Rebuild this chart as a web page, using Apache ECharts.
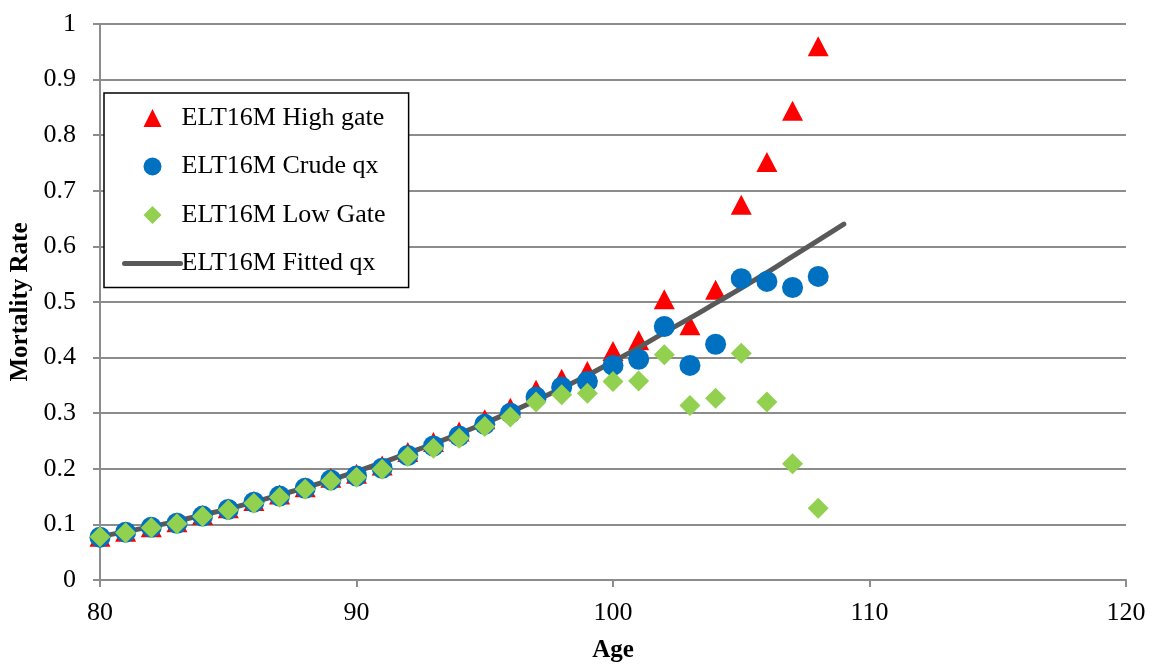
<!DOCTYPE html>
<html><head><meta charset="utf-8">
<script src="https://cdn.jsdelivr.net/npm/echarts@6/dist/echarts.min.js"></script>
<style>html,body{margin:0;padding:0;background:#fff}#c{width:1152px;height:664px}</style>
</head><body><div id="c"></div>
<script>
const ages = [80,81,82,83,84,85,86,87,88,89,90,91,92,93,94,95,96,97,98,99,100,101,102,103,104,105,106,107,108];
const highGate = [0.078,0.087,0.095,0.104,0.117,0.129,0.142,0.154,0.167,0.184,0.191,0.206,0.230,0.248,0.267,0.289,0.310,0.342,0.362,0.376,0.412,0.431,0.505,0.458,0.522,0.675,0.752,0.844,0.960];
const crudeQx = [0.077,0.086,0.095,0.102,0.115,0.127,0.140,0.151,0.165,0.180,0.187,0.201,0.224,0.241,0.259,0.280,0.300,0.329,0.347,0.357,0.386,0.397,0.456,0.386,0.424,0.542,0.537,0.526,0.546];
const lowGate = [0.078,0.085,0.094,0.101,0.114,0.126,0.138,0.149,0.163,0.178,0.185,0.199,0.222,0.237,0.255,0.276,0.293,0.320,0.333,0.336,0.357,0.358,0.405,0.314,0.327,0.408,0.320,0.209,0.129];
const fitAges = [80,81,82,83,84,85,86,87,88,89,90,91,92,93,94,95,96,97,98,99,100,101,102,103,104,105,106,107,108,109];
const fittedQx = [0.078,0.087,0.096,0.106,0.117,0.128,0.140,0.153,0.166,0.180,0.195,0.211,0.228,0.245,0.263,0.282,0.302,0.323,0.345,0.368,0.393,0.418,0.445,0.471,0.498,0.525,0.553,0.582,0.611,0.640];
const seriesNames = ['ELT16M High gate','ELT16M Crude qx','ELT16M Low Gate','ELT16M Fitted qx'];

const pair = (xs, ys) => xs.map((x,i)=>[x, ys[i]]);
const font = '"Liberation Serif", "Times New Roman", serif';
const axisGray = '#8c8c8c';
const triPath = 'path://M0,-1L1,1L-1,1Z';
const diaPath = 'path://M0,-1L1,0L0,1L-1,0Z';

const chart = echarts.init(document.getElementById('c'), null, {renderer:'canvas'});
chart.setOption({
  animation:false,
  backgroundColor:'#fff',
  textStyle:{fontFamily:font},
  grid:{left:100, right:26, top:24, bottom:84, containLabel:false, outerBoundsMode:'none'},
  xAxis:{
    type:'value', min:80, max:120, interval:10,
    name:'Age', nameLocation:'middle', nameGap:58,
    nameTextStyle:{fontFamily:font, fontSize:25, fontWeight:'bold', color:'#000'},
    axisLine:{show:true, lineStyle:{color:axisGray, width:2}},
    axisTick:{show:true, length:7, inside:false, lineStyle:{color:axisGray, width:2}},
    axisLabel:{fontFamily:font, fontSize:26, color:'#000', margin:20},
    splitLine:{show:false}
  },
  yAxis:{
    type:'value', min:0, max:1, interval:0.1,
    name:'Mortality Rate', nameLocation:'middle', nameGap:63, nameRotate:90,
    nameTextStyle:{fontFamily:font, fontSize:25, fontWeight:'bold', color:'#000'},
    axisLine:{show:true, lineStyle:{color:axisGray, width:2}},
    axisTick:{show:true, length:7, inside:false, lineStyle:{color:axisGray, width:2}},
    axisLabel:{fontFamily:font, fontSize:26, color:'#000', margin:24,
      formatter:v=>String(Math.round(v*10)/10)},
    splitLine:{show:true, lineStyle:{color:axisGray, width:2}}
  },
  legend:{
    orient:'vertical', left:104, top:93,
    padding:[12,23,11,18],
    borderColor:'#000', borderWidth:1.5, backgroundColor:'#fff',
    itemGap:22.5, itemWidth:56, itemHeight:18,
    textStyle:{fontFamily:font, fontSize:26, color:'#000', padding:[0,0,0,-4]},
    data:[
      {name:seriesNames[0], icon:triPath},
      {name:seriesNames[1], icon:'circle'},
      {name:seriesNames[2], icon:diaPath},
      {name:seriesNames[3], itemStyle:{opacity:0}, lineStyle:{width:5, color:'#595959', cap:'round'}}
    ]
  },
  series:[
    {name:seriesNames[0], type:'scatter', data:pair(ages, highGate), symbol:'triangle', symbolSize:[21,20],
      itemStyle:{color:'#ff0000', opacity:1}, z:1},
    {name:seriesNames[3], type:'line', data:pair(fitAges, fittedQx), symbol:'none', smooth:true,
      lineStyle:{color:'#595959', width:5, cap:'round'}, itemStyle:{color:'#595959'}, z:2},
    {name:seriesNames[1], type:'scatter', data:pair(ages, crudeQx), symbol:'circle', symbolSize:21,
      itemStyle:{color:'#0070c0', opacity:1}, z:3},
    {name:seriesNames[2], type:'scatter', data:pair(ages, lowGate), symbol:'diamond', symbolSize:21,
      itemStyle:{color:'#92d050', opacity:1}, z:4}
  ]
});
</script></body></html>
